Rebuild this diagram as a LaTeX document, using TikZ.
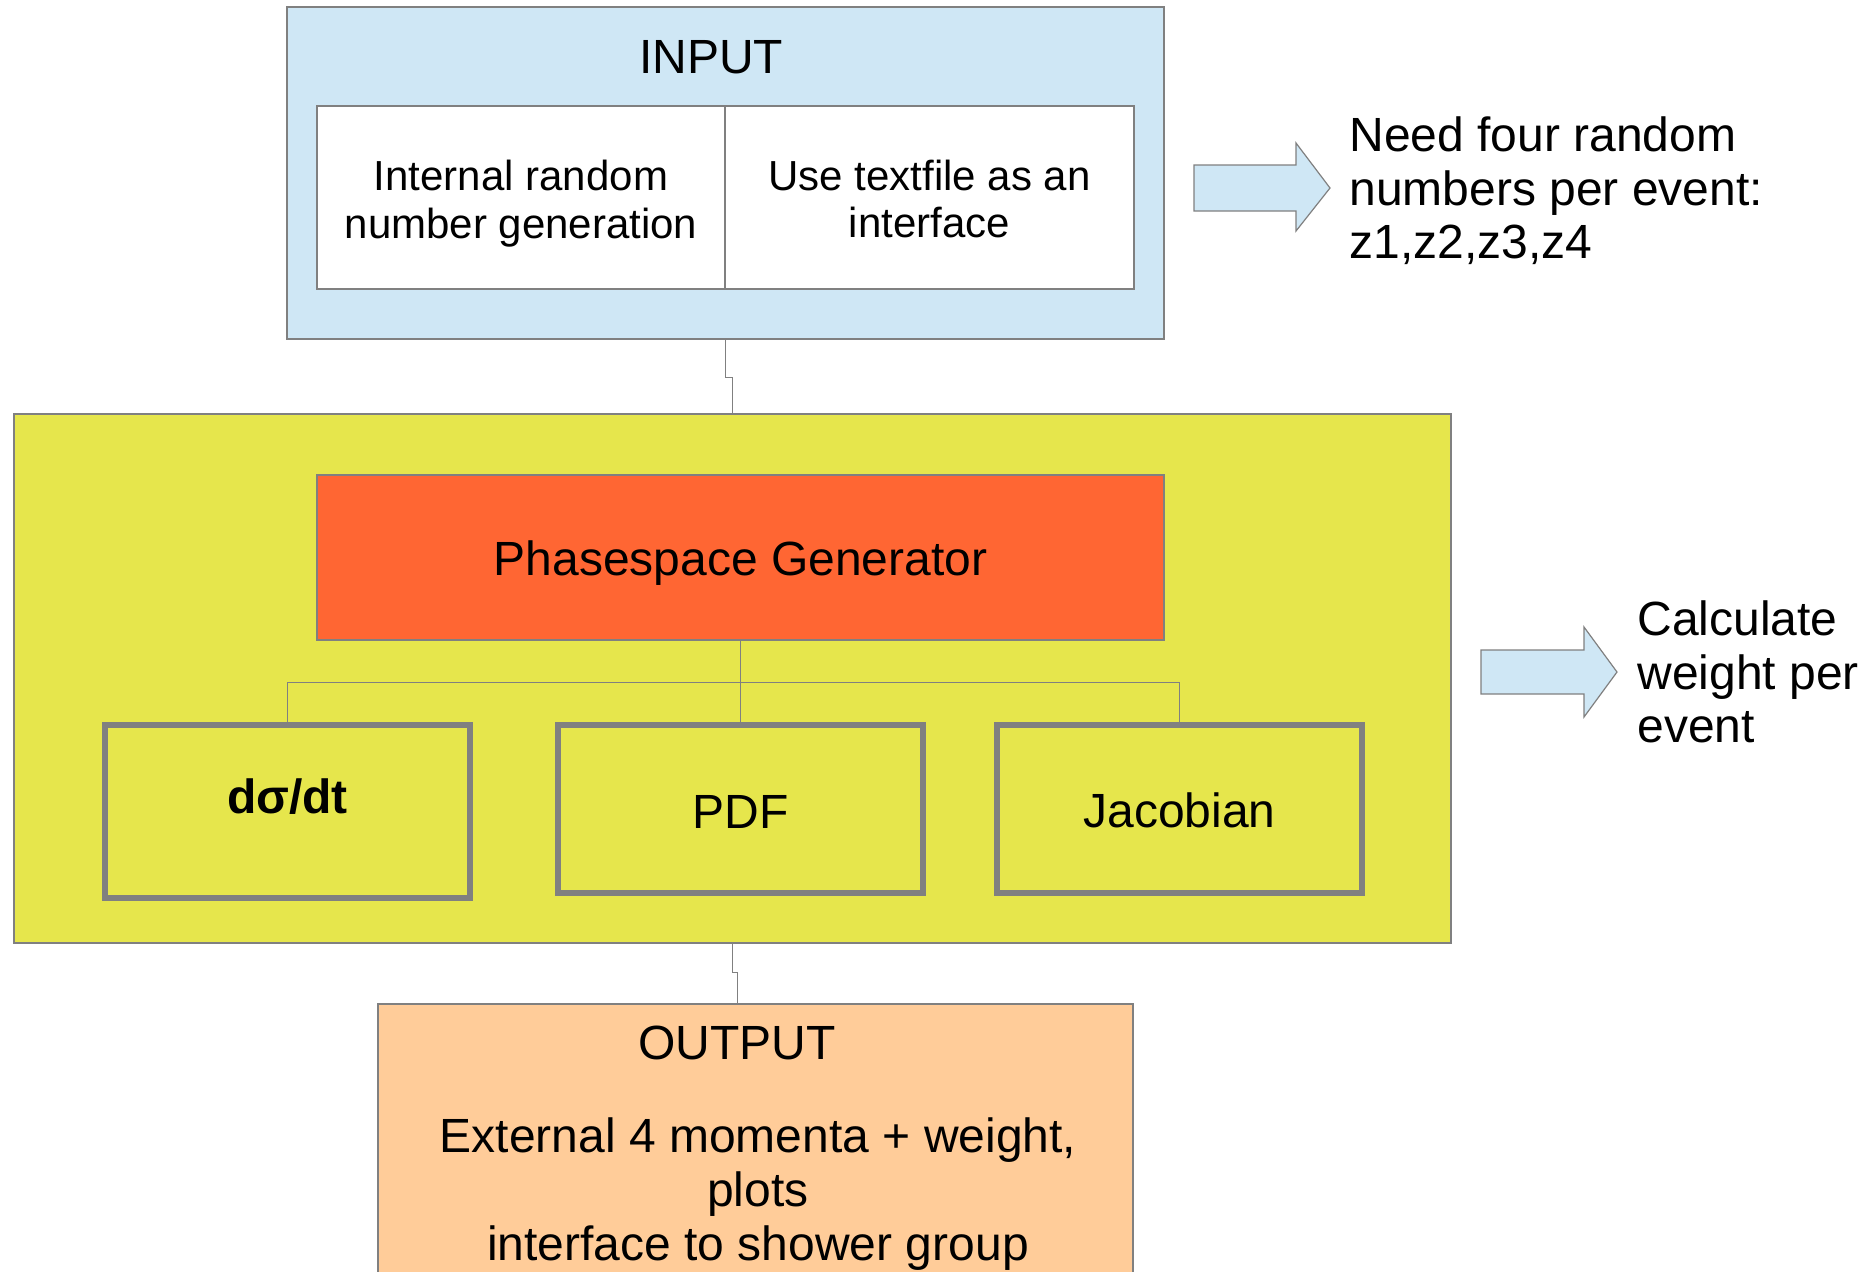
\documentclass[tikz,border=0pt]{standalone}
\usepackage{fontspec}
\setmainfont{Liberation Sans}
\usetikzlibrary{positioning}
\definecolor{inblue}{RGB}{207,231,245}
\definecolor{calcyellow}{RGB}{230,230,76}
\definecolor{phaseorange}{RGB}{255,102,51}
\definecolor{outorange}{RGB}{255,204,153}

\begin{document}
\begin{tikzpicture}[x=0.5pt,y=-0.5pt,
  box/.style={draw=gray,line width=0.6pt,inner sep=0pt},
  sub/.style={draw=gray,line width=3pt,fill=calcyellow,inner sep=0pt,minimum width=182.5pt},
  txt/.style={inner sep=0pt,align=center,font=\fontsize{24}{26.8}\selectfont},
  small/.style={inner sep=0pt,align=center,font=\fontsize{21}{23.9}\selectfont},
  link/.style={draw=gray,line width=0.6pt},
  bigarrow/.style={draw=gray,fill=inblue,line width=0.6pt}]
  \useasboundingbox (0,0) rectangle (1870,1271);
  \clip (0,0) rectangle (1870,1271);

  \node[box,fill=inblue,minimum width=438.5pt,minimum height=166pt] (inp) at (725.5,173) {};
  \node[txt] (inptitle) at (711,57) {INPUT};
  \node[box,fill=white,minimum width=204pt,minimum height=91.5pt] (gen) at (521,197.5) {};
  \node[box,fill=white,minimum width=204.5pt,minimum height=91.5pt] (file) at (929.5,197.5) {};
  \node[small] (gentext) at (521,203.5) {Internal random\\number generation};
  \node[small] (filetext) at (929.5,199) {Use textfile as an\\interface};

  \node[box,fill=calcyellow,minimum width=718.5pt,minimum height=264.5pt] (calc) at (732.5,678.5) {};
  \node[box,fill=phaseorange,minimum width=423.5pt,minimum height=82.5pt] (phase) at (740.5,557.5) {};
  \node[txt] (phasetext) at (740.5,563.5) {Phasespace Generator};
  \node[sub,minimum height=86.5pt] (xsec) at (287.5,811.5) {};
  \node[sub,minimum height=84pt] (pdf) at (740.5,809) {};
  \node[sub,minimum height=84pt] (jac) at (1179.5,809) {};
  \node[txt,font=\fontsize{24}{26.8}\selectfont\bfseries] (xsectext) at (287.5,797) {dσ/dt};
  \node[txt] (pdftext) at (740.5,811.5) {PDF};
  \node[txt] (jactext) at (1179.5,810) {Jacobian};

  \node[box,fill=outorange,minimum width=377.5pt,minimum height=143pt] (outp) at (755.5,1147) {};
  \node[txt] (outtitle) at (737,1043) {OUTPUT};
  \node[txt] (outtext) at (758,1194) {External 4 momenta + weight,\\plots\\interface to shower group};

  \draw[link] (inp.south) -- ++(0,38) -| (calc.north);
  \draw[link] (calc.south) -- ++(0,29) -| ([xshift=-9pt]outp.north);
  \draw[link] (phase.south) -- ++(0,42) coordinate (fork);
  \draw[link] (xsec.north) |- (fork) -| (jac.north);
  \draw[link] (fork) -- (pdf.north);

  \draw[bigarrow] (1194,165) -- (1296,165) -- (1296,143) -- (1330,188) -- (1296,231) -- (1296,211) -- (1194,211) -- cycle;
  \node[txt,align=left,anchor=west] (need) at (1349,191) {Need four random\\numbers per event:\\z1,z2,z3,z4};
  \draw[bigarrow] (1481,650) -- (1584,650) -- (1584,627) -- (1617,672) -- (1584,717) -- (1584,694) -- (1481,694) -- cycle;
  \node[txt,align=left,anchor=west] (weight) at (1637,672) {Calculate\\weight per\\event};
\end{tikzpicture}
\end{document}
